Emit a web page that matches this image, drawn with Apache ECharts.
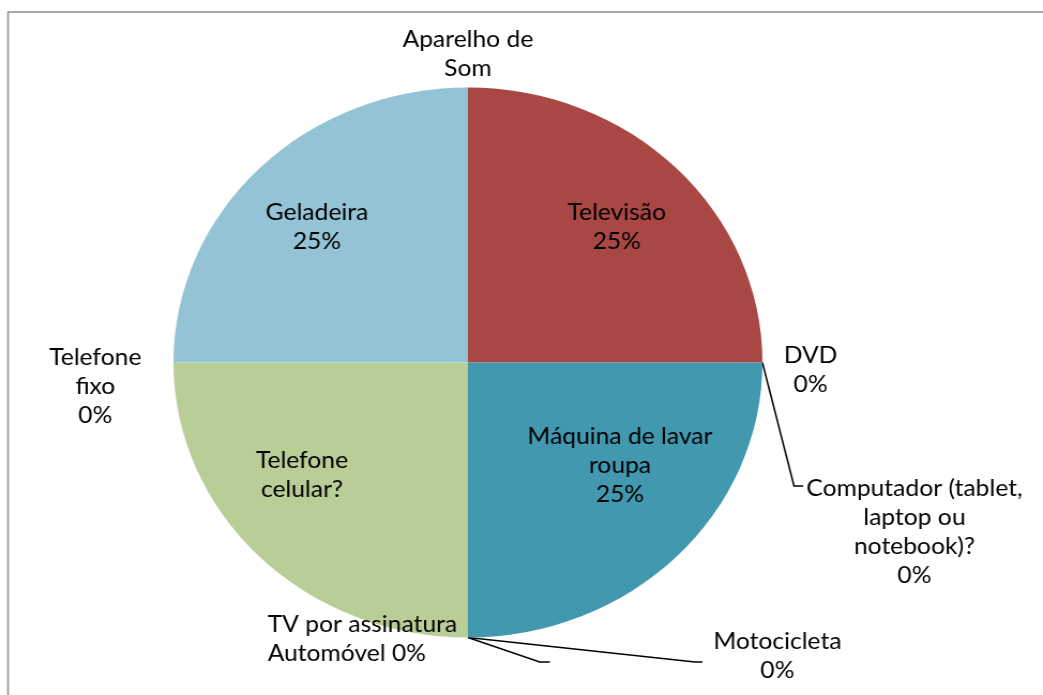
<!DOCTYPE html>
<html>
<head>
<meta charset="utf-8">
<script src="https://cdn.jsdelivr.net/npm/echarts@6/dist/echarts.min.js"></script>
<style>
  html, body { margin: 0; padding: 0; background: #fff; overflow: hidden; }
  /* the source picture is stretched a little sideways, so the whole chart is too */
  #chart { width: 974px; height: 695px; transform: scaleX(1.0708); transform-origin: 0 0; }
</style>
</head>
<body>
<div id="chart"></div>
<script>
// clockwise from 12 o'clock
const categories = ['Aparelho de Som', 'Televisão', 'DVD', 'Computador (tablet, laptop ou notebook)?',
  'Máquina de lavar roupa', 'Motocicleta', '', 'Automóvel', 'TV por assinatura',
  'Telefone celular?', 'Telefone fixo', 'Geladeira']
const values = [0, 25, 0, 0, 25, 0, 0, 0, 0, 25, 0, 25]
const labelTexts = ['Aparelho de\nSom', 'Televisão\n25%', 'DVD\n0%', 'Computador (tablet,\nlaptop ou\nnotebook)?\n0%',
  'Máquina de lavar\nroupa\n25%', 'Motocicleta\n0%', ' ', 'Automóvel 0%', 'TV por assinatura',
  'Telefone\ncelular?', 'Telefone\nfixo\n0%', 'Geladeira\n25%']
const colors = ['#4F81BD', '#A94744', '#9BBB59', '#8064A2', '#4198AF', '#F79646', '#4F81BD', '#C0504D',
  '#9BBB59', '#B9CD96', '#4BACC6', '#93C3D4']

const cx = 437
const cy = 362.5
const R = 275

// where each label sits (and the bend of its leader, if it has one)
const labelPos = [
  { x: 437, y: 54, align: 'center' },
  { x: 576, y: 227, align: 'center' },
  { x: 757, y: 370, align: 'center' },
  { x: 854, y: 532, align: 'center', line: [[741.5, 486], [750, 486]] },
  { x: 579, y: 466, align: 'center' },
  { x: 726, y: 656, align: 'center', line: [[649, 662], [656, 662]] },
  { x: 520, y: 662, align: 'left', line: [[504, 662], [513.5, 662]] },
  { x: 250, y: 654, align: 'left' },
  { x: 250, y: 625, align: 'left' },
  { x: 282, y: 475, align: 'center' },
  { x: 89, y: 387, align: 'center' },
  { x: 296, y: 227, align: 'center' }
]

const total = values.reduce((a, b) => a + b, 0)
// edge point of each slice at its middle angle
const edgePoints = []
let acc = 0
values.forEach(v => {
  const a = (acc + v / 2) / total * Math.PI * 2
  edgePoints.push([cx + R * Math.sin(a), cy - R * Math.cos(a)])
  acc += v
})

const seriesData = categories.map((name, i) => ({
  name: name,
  value: values[i],
  itemStyle: { color: colors[i] },
  labelLine: { show: !!labelPos[i].line }
}))

const chart = echarts.init(document.getElementById('chart'))
chart.setOption({
  animation: false,
  graphic: [{
    type: 'rect',
    silent: true,
    shape: { x: 7.5, y: 12, width: 2000, height: 1000 },
    style: { fill: 'none', stroke: '#8c8c8c', lineWidth: 1.5 }
  }],
  series: [{
    type: 'pie',
    center: [cx, cy],
    radius: R,
    startAngle: 90,
    clockwise: true,
    avoidLabelOverlap: false,
    itemStyle: { borderWidth: 0 },
    label: {
      show: true,
      position: 'outside',
      formatter: p => labelTexts[p.dataIndex],
      color: '#000',
      fontFamily: 'Lato',
      fontSize: 23,
      lineHeight: 29
    },
    labelLine: {
      lineStyle: { color: '#000', width: 1.5 }
    },
    labelLayout: function (params) {
      const p = labelPos[params.dataIndex]
      const res = { x: p.x, y: p.y, align: p.align, verticalAlign: 'middle' }
      if (p.line) {
        res.labelLinePoints = [edgePoints[params.dataIndex], p.line[0], p.line[1]]
      }
      return res
    },
    data: seriesData
  }]
})
</script>
</body>
</html>
